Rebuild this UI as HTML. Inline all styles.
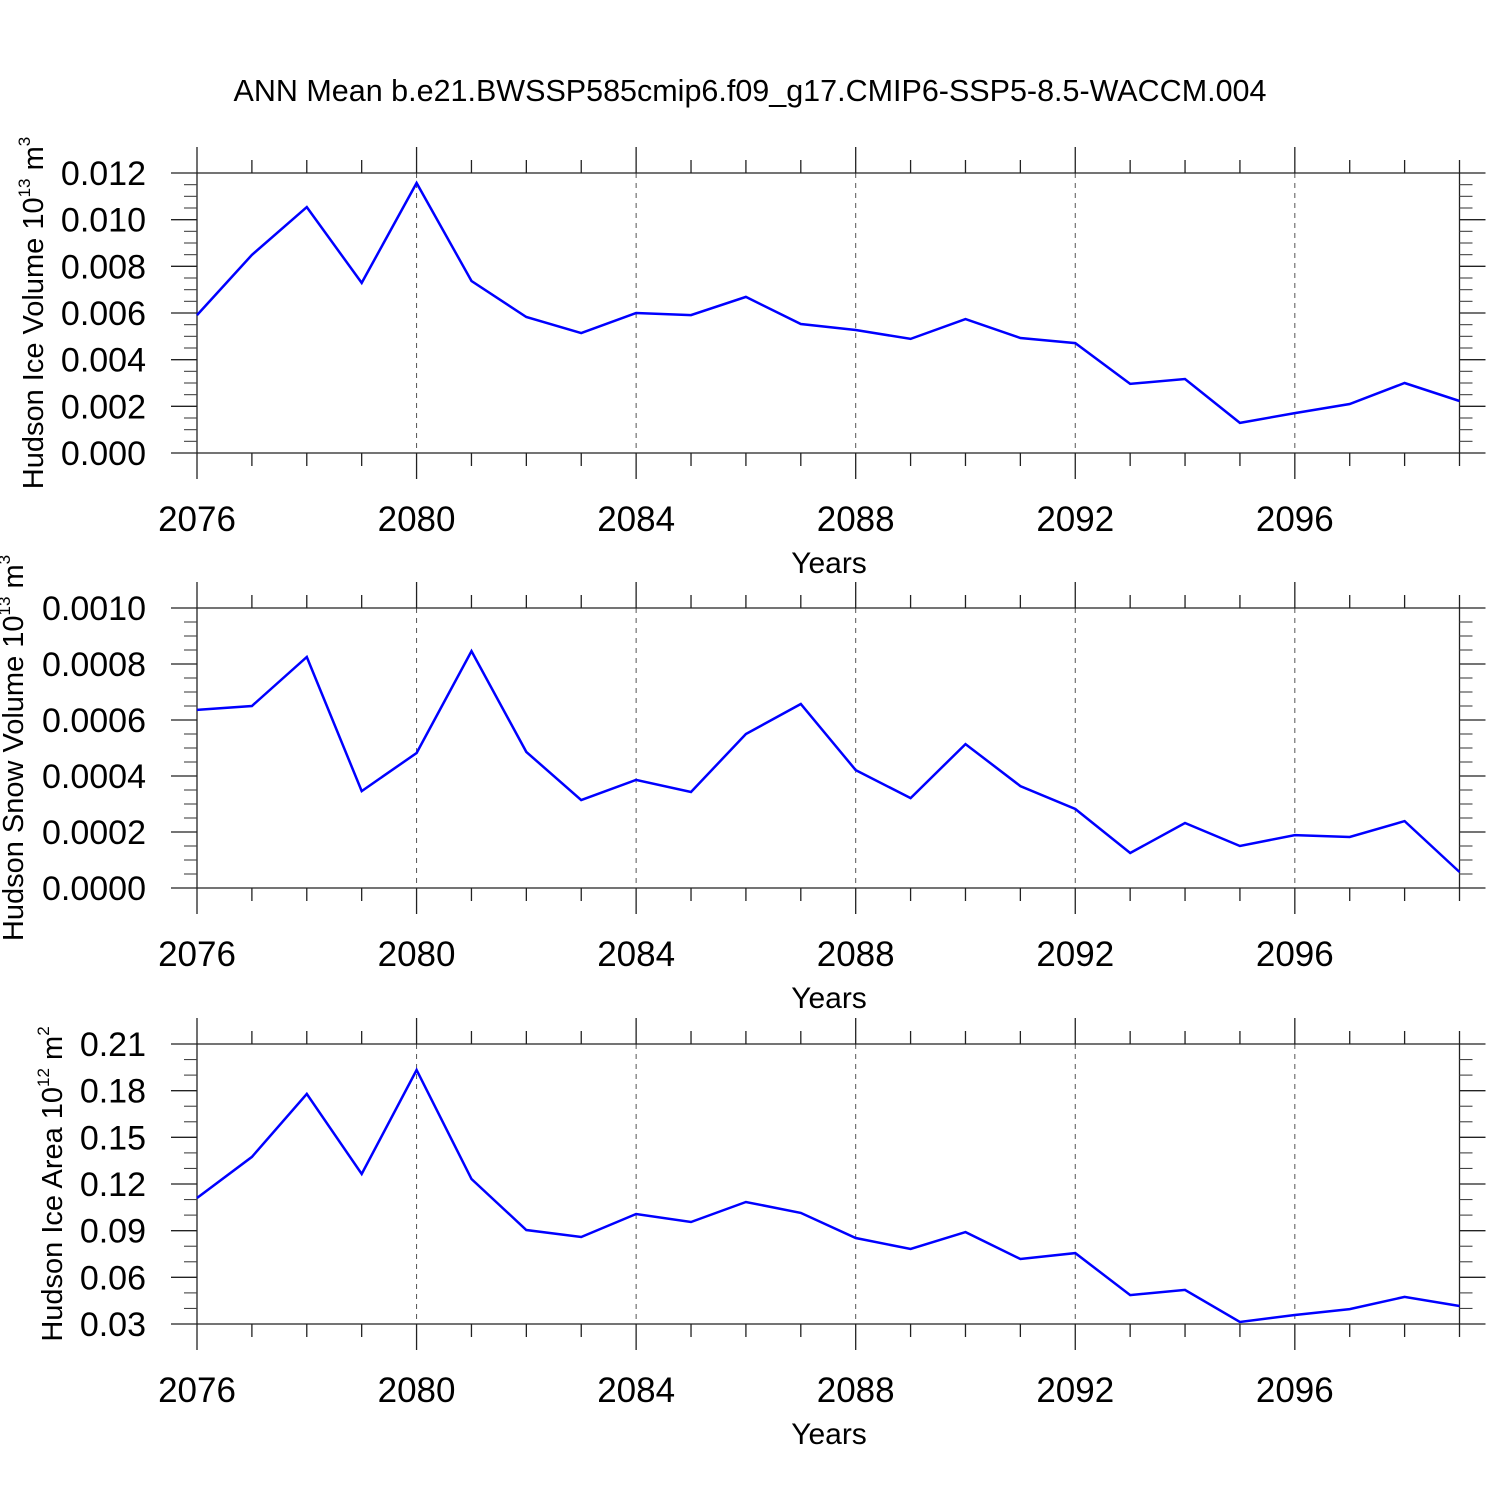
<!DOCTYPE html>
<html><head><meta charset="utf-8"><style>
html,body{margin:0;padding:0;background:#fff;}
svg{display:block;font-family:"Liberation Sans",sans-serif;}
</style></head><body>
<svg id="chart" width="1500" height="1500" viewBox="0 0 1500 1500" xmlns="http://www.w3.org/2000/svg">
<rect width="1500" height="1500" fill="#fff"/>
<text x="750" y="101" font-size="30.5" text-anchor="middle">ANN Mean b.e21.BWSSP585cmip6.f09_g17.CMIP6-SSP5-8.5-WACCM.004</text>
</svg>
<script>
const years = [2076,2077,2078,2079,2080,2081,2082,2083,2084,2085,2086,2087,2088,2089,2090,2091,2092,2093,2094,2095,2096,2097,2098,2099];
const iceVolume = [0.00591,0.00849,0.01054,0.00729,0.01157,0.00737,0.00583,0.00514,0.0060,0.00591,0.00669,0.00553,0.00527,0.00489,0.00574,0.00493,0.00471,0.00296,0.00317,0.00129,0.00171,0.0021,0.0030,0.00223];
const snowVolume = [0.000636,0.00065,0.000825,0.000346,0.000482,0.000846,0.000486,0.000314,0.000386,0.000343,0.00055,0.000657,0.000421,0.000321,0.000514,0.000364,0.000282,0.000125,0.000232,0.00015,0.000189,0.000182,0.000239,0.000057];
const iceArea = [0.111,0.1374,0.1779,0.1264,0.1933,0.1232,0.0904,0.0859,0.1007,0.0956,0.1084,0.1014,0.0853,0.0782,0.0891,0.0718,0.0756,0.0486,0.0519,0.0313,0.0358,0.0396,0.0474,0.0416];
const xTickLabels = ["2076","2080","2084","2088","2092","2096"];
const iceVolTicks = ["0.000","0.002","0.004","0.006","0.008","0.010","0.012"];
const snowVolTicks = ["0.0000","0.0002","0.0004","0.0006","0.0008","0.0010"];
const iceAreaTicks = ["0.03","0.06","0.09","0.12","0.15","0.18","0.21"];

const NS="http://www.w3.org/2000/svg";
const svg=document.getElementById('chart');
function mk(tag,attrs,parent){const e=document.createElementNS(NS,tag);for(const k in attrs)e.setAttribute(k,attrs[k]);(parent||svg).appendChild(e);return e;}
const X0=197,X1=1459.5,XMIN=2076,XMAX=2099;
function xs(v){return X0+(v-XMIN)/(XMAX-XMIN)*(X1-X0);}

function panel(name,top,values,ticks,ymin,ymax,nsub,titleParts,titleX){
  const bot=top+280;
  const g=mk('g',{});
  
  
  function ys(v){return bot-(v-ymin)/(ymax-ymin)*280;}
  xTickLabels.forEach((t,i)=>{const v=+t;if(v===XMIN)return;
    const l=mk('line',{x1:xs(v),x2:xs(v),y1:top,y2:bot,stroke:'#555','stroke-width':1,'stroke-dasharray':'5,5'},g);
    });
  years.forEach(v=>{const x=xs(v);const major=(v-XMIN)%4===0;const len=major?26:13;
    mk('line',{x1:x,x2:x,y1:top-len,y2:top,stroke:'#222','stroke-width':1.3},g);
    mk('line',{x1:x,x2:x,y1:bot,y2:bot+len,stroke:'#222','stroke-width':1.3},g);});
  // frame
  mk('line',{x1:X0,x2:X1,y1:top,y2:top,stroke:'#222','stroke-width':1.3},g);
  mk('line',{x1:X0,x2:X1,y1:bot,y2:bot,stroke:'#222','stroke-width':1.3},g);
  mk('line',{x1:X0,x2:X0,y1:top,y2:bot,stroke:'#222','stroke-width':1.3},g);
  mk('line',{x1:X1,x2:X1,y1:top,y2:bot,stroke:'#222','stroke-width':1.3},g);
  const step=(ymax-ymin)/(ticks.length-1);
  for(let i=0;i<ticks.length;i++){
    const y=ys(ymin+i*step);
    mk('line',{x1:X0-26,x2:X0,y1:y,y2:y,stroke:'#222','stroke-width':1.3},g);
    mk('line',{x1:X1,x2:X1+26,y1:y,y2:y,stroke:'#222','stroke-width':1.3},g);
    const t=mk('text',{x:146,y:y+12,'font-size':34,'text-anchor':'end'},g);
    t.textContent=ticks[i];
    
    if(i<ticks.length-1)for(let k=1;k<nsub;k++){const yy=ys(ymin+(i+k/nsub)*step);
      mk('line',{x1:X0-13,x2:X0,y1:yy,y2:yy,stroke:'#444','stroke-width':1.1},g);
      mk('line',{x1:X1,x2:X1+13,y1:yy,y2:yy,stroke:'#444','stroke-width':1.1},g);}
  }
  xTickLabels.forEach(t=>{const tx=mk('text',{x:xs(+t),y:bot+78,'font-size':35,'text-anchor':'middle'},g);tx.textContent=t;
    });
  const xt=mk('text',{x:829,y:bot+120,'font-size':30,'text-anchor':'middle'},g);xt.textContent='Years';
  
  const cy=top+140;
  const yt=mk('text',{x:0,y:0,'font-size':29,'text-anchor':'middle',transform:`translate(${titleX},${cy}) rotate(-90)`},g);
  
  const s1=mk('tspan',{},yt);s1.textContent=titleParts[0];
  const s2=mk('tspan',{dy:-13,'font-size':17},yt);s2.textContent=titleParts[1];
  const s3=mk('tspan',{dy:13},yt);s3.textContent=' '+titleParts[2];
  const s4=mk('tspan',{dy:-13,'font-size':17},yt);s4.textContent=titleParts[3];
  const pts=years.map((yr,i)=>xs(yr).toFixed(1)+','+ys(values[i]).toFixed(1)).join(' ');
  const pl=mk('polyline',{points:pts,fill:'none',stroke:'#0000ff','stroke-width':2.5,'stroke-linejoin':'miter'},g);
  
}
panel('ice-volume',173,iceVolume,iceVolTicks,0,0.012,4,['Hudson Ice Volume 10','13','m','3'],43);
panel('snow-volume',608,snowVolume,snowVolTicks,0,0.0010,4,['Hudson Snow Volume 10','13','m','3'],23);
panel('ice-area',1044,iceArea,iceAreaTicks,0.03,0.21,3,['Hudson Ice Area 10','12','m','2'],62);
</script>
</body></html>
